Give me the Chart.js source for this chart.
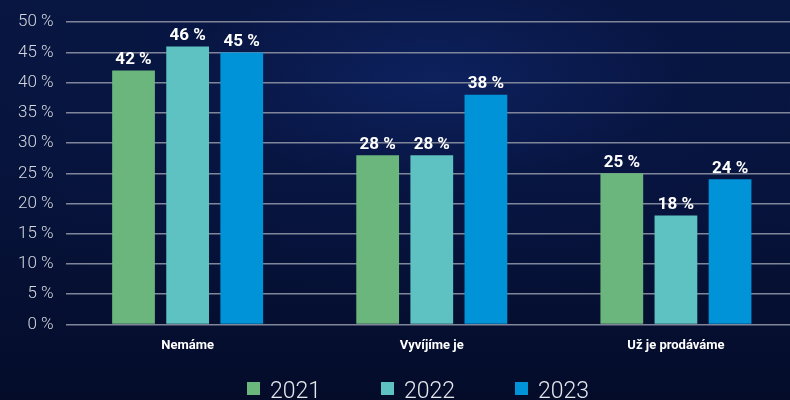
<!DOCTYPE html>
<html>
<head>
<meta charset="utf-8">
<script src="https://cdn.jsdelivr.net/npm/chart.js@4/dist/chart.umd.min.js"></script>
<style>
html, body { margin: 0; padding: 0; overflow: hidden; }
body {
    width: 790px; height: 400px;
    background: radial-gradient(ellipse 70% 60% at 55% 20%, #0d215e 0%, rgba(8,22,70,0.6) 45%, rgba(4,10,35,0) 100%),
                linear-gradient(180deg, #081640 0%, #061238 55%, #040c2a 100%);
}
#wrap { width: 798px; height: 400px; position: relative; }
</style>
</head>
<body>
<div id="wrap"><canvas id="chart"></canvas></div>
<script>
var categories = ["Nemáme", "Vyvíjíme je", "Už je prodáváme"];
var years = ["2021", "2022", "2023"];
var values2021 = [42, 28, 25];
var values2022 = [46, 28, 18];
var values2023 = [45, 38, 24];
var colors = ["#6bb67c", "#5dc2c1", "#0093d7"];

// labels above the bars
var barLabels = {
    id: 'barLabels',
    afterDatasetsDraw: function (chart) {
        var ctx = chart.ctx;
        ctx.save();
        ctx.font = "bold 17px Roboto";
        ctx.fillStyle = "#ffffff";
        ctx.textAlign = "center";
        ctx.textBaseline = "bottom";
        chart.data.datasets.forEach(function (ds, i) {
            chart.getDatasetMeta(i).data.forEach(function (bar, j) {
                ctx.fillText(ds.data[j] + " %", bar.x, bar.y - 2);
            });
        });
        ctx.restore();
    }
};

// wide spaced legend at the bottom
var bottomLegend = {
    id: 'bottomLegend',
    afterDraw: function (chart) {
        var ctx = chart.ctx;
        ctx.save();
        ctx.font = "300 23px Roboto";
        ctx.textBaseline = "alphabetic";
        ctx.textAlign = "left";
        chart.data.datasets.forEach(function (ds, i) {
            var x = 247 + i * 134;
            ctx.fillStyle = ds.backgroundColor;
            ctx.fillRect(x, 382, 13, 13);
            ctx.fillStyle = "#e6e8ee";
            ctx.fillText(ds.label, x + 23, 398);
        });
        ctx.restore();
    }
};

var series = [values2021, values2022, values2023];
var datasets = [];
for (var i = 0; i < years.length; i++) {
    datasets.push({
        label: years[i],
        data: series[i],
        backgroundColor: colors[i],
        borderWidth: 0,
        categoryPercentage: 0.665,
        barPercentage: 0.79
    });
}

new Chart(document.getElementById('chart').getContext('2d'), {
    type: 'bar',
    data: { labels: categories, datasets: datasets },
    plugins: [barLabels, bottomLegend],
    options: {
        responsive: true,
        maintainAspectRatio: false,
        animation: false,
        layout: { padding: { top: 14, left: 6, right: 0, bottom: 40 } },
        plugins: {
            tooltip: { enabled: false },
            legend: { display: false }
        },
        scales: {
            x: {
                grid: { display: false },
                border: { display: false },
                ticks: {
                    color: "#ffffff",
                    font: { family: "Roboto", size: 13, weight: "bold" },
                    padding: 6
                }
            },
            y: {
                min: 0,
                max: 50,
                ticks: {
                    stepSize: 5,
                    color: "#d4d7de",
                    font: { family: "Roboto", size: 17, weight: 300 },
                    padding: 12,
                    callback: function (v) { return v + " %"; }
                },
                grid: { color: "#80869a", lineWidth: 1.5, drawTicks: false },
                border: { display: false }
            }
        }
    }
});
</script>
</body>
</html>
